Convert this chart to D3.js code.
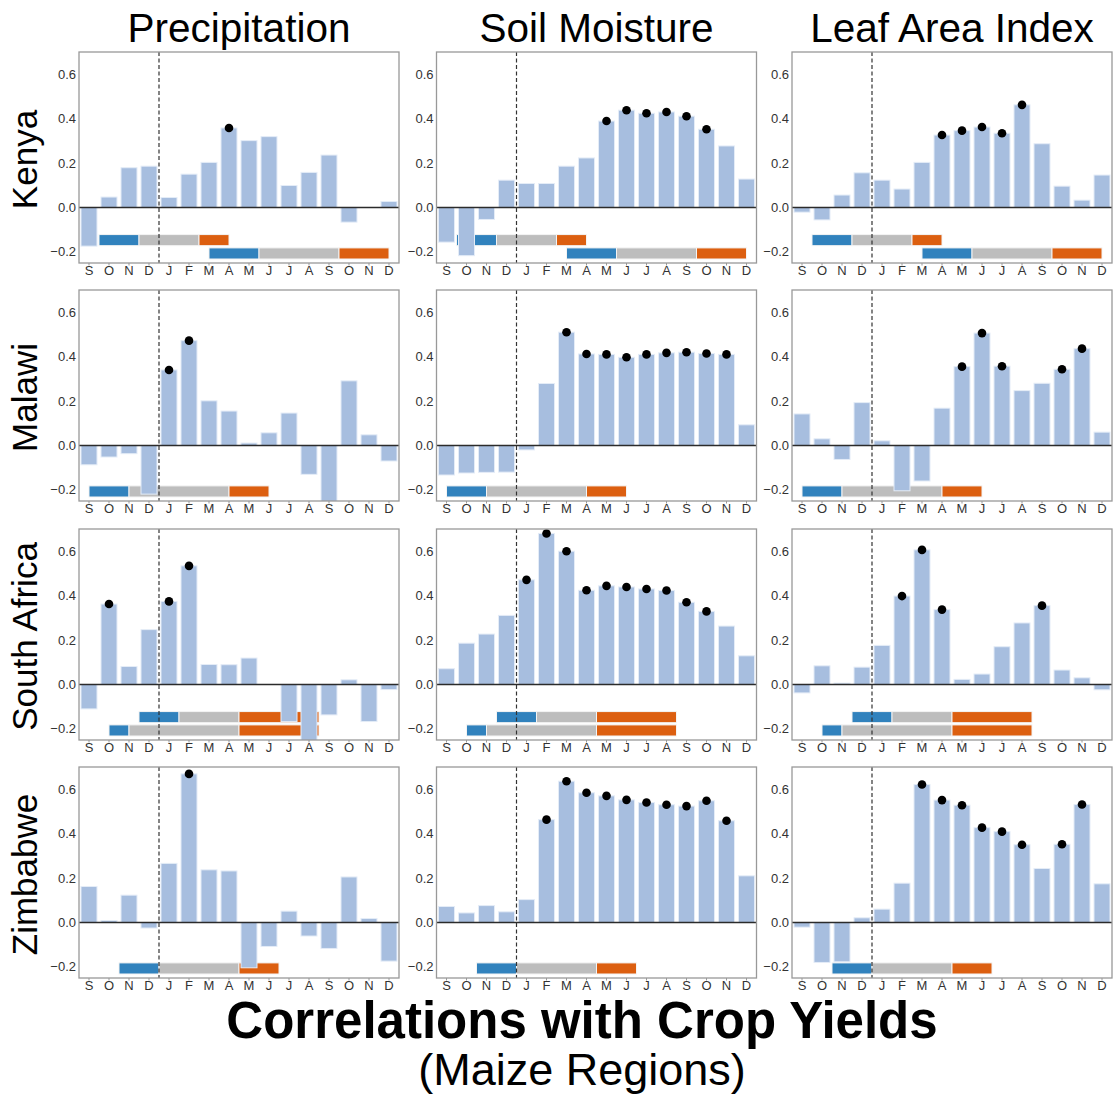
<!DOCTYPE html>
<html>
<head>
<meta charset="utf-8">
<script src="https://cdn.jsdelivr.net/npm/d3@7"></script>
<style>
  html, body { margin: 0; padding: 0; background: #fff; }
  svg { display: block; font-family: "Liberation Sans", Arial, Helvetica, sans-serif; }
</style>
</head>
<body>
<svg id="chart" width="1119" height="1094"></svg>
<script>
// Months from September of the planting year through December of the following year
const months = ["S", "O", "N", "D", "J", "F", "M", "A", "M", "J", "J", "A", "S", "O", "N", "D"];
const variables = ["Precipitation", "Soil Moisture", "Leaf Area Index"];
const countries = ["Kenya", "Malawi", "South Africa", "Zimbabwe"];
const yTicks = [-0.2, 0.0, 0.2, 0.4, 0.6];

// Correlation of each monthly anomaly with maize yield, per country and variable
const kenyaPrecip = [-0.174, 0.047, 0.179, 0.186, 0.045, 0.150, 0.203, 0.358, 0.301, 0.319, 0.099, 0.158, 0.236, -0.066, 0.0, 0.027];
const kenyaSoil   = [-0.156, -0.217, -0.054, 0.123, 0.108, 0.108, 0.186, 0.223, 0.389, 0.438, 0.424, 0.430, 0.411, 0.352, 0.277, 0.128];
const kenyaLai    = [-0.021, -0.056, 0.056, 0.156, 0.123, 0.083, 0.203, 0.326, 0.346, 0.362, 0.334, 0.462, 0.287, 0.096, 0.033, 0.146];

const malawiPrecip = [-0.087, -0.052, -0.037, -0.219, 0.340, 0.472, 0.201, 0.155, 0.011, 0.057, 0.146, -0.130, -0.270, 0.291, 0.048, -0.070];
const malawiSoil   = [-0.133, -0.124, -0.121, -0.120, -0.020, 0.279, 0.510, 0.412, 0.410, 0.397, 0.410, 0.417, 0.420, 0.414, 0.410, 0.093];
const malawiLai    = [0.142, 0.030, -0.063, 0.193, 0.021, -0.204, -0.160, 0.168, 0.355, 0.506, 0.357, 0.247, 0.280, 0.343, 0.436, 0.060];

const safricaPrecip = [-0.110, 0.362, 0.081, 0.247, 0.374, 0.534, 0.090, 0.089, 0.119, 0.0, -0.167, -0.270, -0.137, 0.021, -0.167, -0.023];
const safricaSoil   = [0.071, 0.186, 0.227, 0.311, 0.471, 0.680, 0.600, 0.424, 0.444, 0.439, 0.430, 0.423, 0.370, 0.329, 0.263, 0.129];
const safricaLai    = [-0.038, 0.084, 0.006, 0.078, 0.176, 0.398, 0.606, 0.337, 0.023, 0.047, 0.170, 0.277, 0.355, 0.065, 0.030, -0.024];

const zimPrecip = [0.162, 0.009, 0.123, -0.025, 0.266, 0.669, 0.237, 0.232, -0.204, -0.108, 0.051, -0.061, -0.117, 0.205, 0.018, -0.174];
const zimSoil   = [0.072, 0.043, 0.076, 0.048, 0.103, 0.463, 0.636, 0.584, 0.570, 0.552, 0.540, 0.530, 0.524, 0.548, 0.458, 0.210];
const zimLai    = [-0.021, -0.180, -0.177, 0.021, 0.060, 0.177, 0.621, 0.551, 0.528, 0.427, 0.409, 0.350, 0.243, 0.352, 0.531, 0.174];

// Months whose correlation is significant (index into months)
const kenyaPrecipSig = [7];
const kenyaSoilSig   = [8, 9, 10, 11, 12, 13];
const kenyaLaiSig    = [7, 8, 9, 10, 11];
const malawiPrecipSig = [4, 5];
const malawiSoilSig   = [6, 7, 8, 9, 10, 11, 12, 13, 14];
const malawiLaiSig    = [8, 9, 10, 13, 14];
const safricaPrecipSig = [1, 4, 5];
const safricaSoilSig   = [4, 5, 6, 7, 8, 9, 10, 11, 12, 13];
const safricaLaiSig    = [5, 6, 7, 12];
const zimPrecipSig = [5];
const zimSoilSig   = [5, 6, 7, 8, 9, 10, 11, 12, 13, 14];
const zimLaiSig    = [6, 7, 8, 9, 10, 11, 13, 14];

// Crop calendars: planting / growing / harvest spans, in months from the start of September
const kenyaSeasons = [
  { lane: "upper", planting: [1, 3], growing: [3, 6], harvest: [6, 7.5] },
  { lane: "lower", planting: [6.5, 9], growing: [9, 13], harvest: [13, 15.5] }
];
const malawiSeasons = [
  { lane: "lower", planting: [0.5, 2.5], growing: [2.5, 7.5], harvest: [7.5, 9.5] }
];
const safricaSeasons = [
  { lane: "upper", planting: [3, 5], growing: [5, 8], harvest: [8, 12] },
  { lane: "lower", planting: [1.5, 2.5], growing: [2.5, 8], harvest: [8, 12] }
];
const zimSeasons = [
  { lane: "lower", planting: [2, 4], growing: [4, 8], harvest: [8, 10] }
];

const values = [
  [kenyaPrecip, kenyaSoil, kenyaLai],
  [malawiPrecip, malawiSoil, malawiLai],
  [safricaPrecip, safricaSoil, safricaLai],
  [zimPrecip, zimSoil, zimLai]
];
const significant = [
  [kenyaPrecipSig, kenyaSoilSig, kenyaLaiSig],
  [malawiPrecipSig, malawiSoilSig, malawiLaiSig],
  [safricaPrecipSig, safricaSoilSig, safricaLaiSig],
  [zimPrecipSig, zimSoilSig, zimLaiSig]
];
const seasons = [kenyaSeasons, malawiSeasons, safricaSeasons, zimSeasons];

// Layout
const panelLefts = [79, 436.5, 792];
const panelTops = [52, 290, 529, 767];
const panelW = 320;
const panelH = 211;

const barColor = "#a7bedf";
const phaseColors = { planting: "#3182bd", growing: "#bdbdbd", harvest: "#dc5f10" };
const laneExtent = { upper: [-0.172, -0.122], lower: [-0.232, -0.182] };

const svg = d3.select("#chart");

const x = d3.scaleBand().domain(d3.range(months.length)).range([0, panelW]).paddingInner(0.2).paddingOuter(0.1);
// linear month scale for calendar spans and the year divider
const xm = d3.scaleLinear().domain([0, months.length]).range([0, panelW]);
const y = d3.scaleLinear().domain([-0.25, 0.70]).range([panelH, 0]);

const fmt = d => (d < 0 ? "\u2212" : "") + Math.abs(d).toFixed(1);

countries.forEach((country, r) => {
  variables.forEach((variable, c) => {
    const g = svg.append("g").attr("transform", `translate(${panelLefts[c]},${panelTops[r]})`);
    const clipId = `clip-${r}-${c}`;
    g.append("clipPath").attr("id", clipId)
      .append("rect").attr("width", panelW).attr("height", panelH);
    const plot = g.append("g").attr("clip-path", `url(#${clipId})`);

    // crop calendar bars
    seasons[r].forEach(s => {
      ["planting", "growing", "harvest"].forEach(phase => {
        const [a, b] = s[phase];
        const [lo, hi] = laneExtent[s.lane];
        plot.append("rect")
          .attr("x", xm(a)).attr("width", xm(b) - xm(a))
          .attr("y", y(hi)).attr("height", y(lo) - y(hi))
          .attr("fill", phaseColors[phase])
          .attr("stroke", "#f4f4f4").attr("stroke-width", 1);
      });
    });

    // correlation bars
    const vals = values[r][c];
    plot.selectAll("rect.bar").data(vals).enter().append("rect")
      .attr("class", "bar")
      .attr("x", (d, i) => x(i))
      .attr("width", x.bandwidth())
      .attr("y", d => y(Math.max(0, d)))
      .attr("height", d => Math.abs(y(d) - y(0)))
      .attr("fill", barColor)
      .attr("stroke", "#e4ecf7").attr("stroke-width", 1);

    // zero line
    plot.append("line")
      .attr("x1", 0).attr("x2", panelW).attr("y1", y(0)).attr("y2", y(0))
      .attr("stroke", "#2b2b2b").attr("stroke-width", 1.6);

    // significance markers
    plot.selectAll("circle.sig").data(significant[r][c]).enter().append("circle")
      .attr("class", "sig")
      .attr("cx", i => x(i) + x.bandwidth() / 2)
      .attr("cy", i => y(vals[i]))
      .attr("r", 4.3)
      .attr("fill", "#000");

    // year divider between December and January
    plot.append("line")
      .attr("x1", xm(4)).attr("x2", xm(4)).attr("y1", 0).attr("y2", panelH)
      .attr("stroke", "#333").attr("stroke-width", 1.2).attr("stroke-dasharray", "4,2.5");

    // frame
    g.append("rect").attr("width", panelW).attr("height", panelH)
      .attr("fill", "none").attr("stroke", "#999").attr("stroke-width", 1.3);

    // y axis labels
    g.selectAll("text.ytick").data(yTicks).enter().append("text")
      .attr("class", "ytick")
      .attr("x", -3).attr("y", d => y(d)).attr("dy", "0.35em")
      .attr("text-anchor", "end")
      .attr("font-size", 13).attr("fill", "#333")
      .text(fmt);

    // x axis ticks and month labels
    g.selectAll("line.xtick").data(months).enter().append("line")
      .attr("class", "xtick")
      .attr("x1", (d, i) => x(i) + x.bandwidth() / 2).attr("x2", (d, i) => x(i) + x.bandwidth() / 2)
      .attr("y1", panelH).attr("y2", panelH + 2.5)
      .attr("stroke", "#999").attr("stroke-width", 1);
    g.selectAll("text.xtick").data(months).enter().append("text")
      .attr("class", "xtick")
      .attr("x", (d, i) => x(i) + x.bandwidth() / 2).attr("y", panelH + 12)
      .attr("text-anchor", "middle")
      .attr("font-size", 13).attr("fill", "#333")
      .text(d => d);
  });

  // country label
  svg.append("text")
    .attr("transform", `translate(37,${panelTops[r] + panelH / 2 + 2}) rotate(-90)`)
    .attr("text-anchor", "middle")
    .attr("font-size", 35).attr("fill", "#000")
    .text(country);
});

// variable headings
variables.forEach((v, c) => {
  svg.append("text")
    .attr("x", panelLefts[c] + panelW / 2).attr("y", 42)
    .attr("text-anchor", "middle")
    .attr("font-size", 40.5).attr("fill", "#000")
    .text(v);
});

// figure title
svg.append("text")
  .attr("x", 582).attr("y", 1038)
  .attr("text-anchor", "middle")
  .attr("font-size", 51).attr("font-weight", "bold").attr("fill", "#000")
  .text("Correlations with Crop Yields");
svg.append("text")
  .attr("x", 582).attr("y", 1085)
  .attr("text-anchor", "middle")
  .attr("font-size", 45).attr("font-weight", 300).attr("fill", "#000")
  .text("(Maize Regions)");
</script>
</body>
</html>
